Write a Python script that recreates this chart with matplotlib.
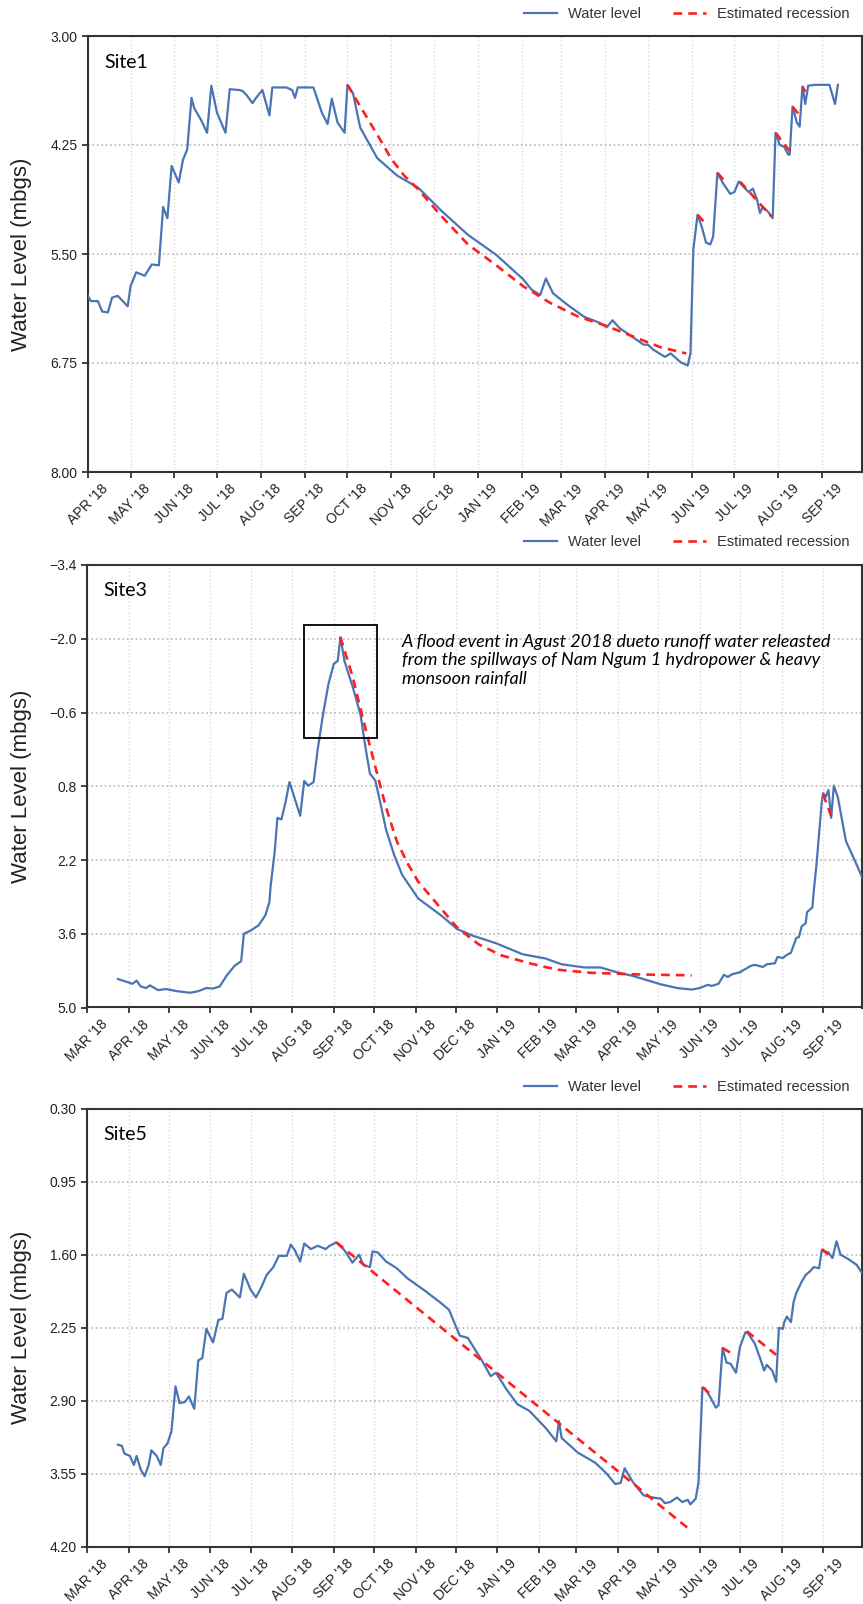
import matplotlib
matplotlib.use("Agg")
import matplotlib.pyplot as plt
import matplotlib.dates as mdates
from matplotlib.patches import Rectangle
from matplotlib.ticker import FuncFormatter
import numpy as np
import pandas as pd

plt.rcParams['font.family'] = ['Liberation Sans', 'DejaVu Sans']

BLUE = "#4a74b4"
RED = "#ff1f1f"

# ---- Site1 : days counted from 2018-04-01 ----
site1_start = "2018-04-01"
site1_xlim = ("2018-04-01", "2019-09-29")
site1_day = [0, 2, 7, 10, 14, 17, 21, 28, 30, 34, 40, 45, 50, 53, 56, 59, 64, 67, 70, 73,
             75, 80, 84, 87, 91, 97, 100, 107, 109, 112, 116, 119, 123, 128, 130, 140, 144,
             146, 148, 159, 165, 169, 172, 176, 181, 183, 187, 192, 204, 218, 233, 249, 268,
             288, 307, 313, 319, 323, 328, 338, 350, 361, 366, 370, 375, 384, 392, 395, 399,
             407, 411, 418, 423, 425, 427, 430, 433, 436, 439, 441, 444, 448, 453, 456, 459,
             463, 466, 469, 472, 474, 476, 480, 483, 485, 488, 491, 494, 495, 497, 500, 502,
             504, 506, 508, 513, 523, 527, 529]
site1_level = [5.98, 6.04, 6.04, 6.16, 6.17, 6.00, 5.98, 6.10, 5.87, 5.71, 5.75, 5.62, 5.63,
               4.96, 5.09, 4.49, 4.68, 4.42, 4.30, 3.71, 3.83, 3.97, 4.11, 3.57, 3.88, 4.11,
               3.61, 3.62, 3.63, 3.68, 3.77, 3.70, 3.62, 3.91, 3.59, 3.59, 3.62, 3.71, 3.59,
               3.59, 3.88, 4.01, 3.72, 3.99, 4.11, 3.56, 3.66, 4.05, 4.40, 4.60, 4.74, 5.00,
               5.28, 5.51, 5.79, 5.91, 5.97, 5.78, 5.95, 6.08, 6.22, 6.29, 6.34, 6.26, 6.35,
               6.45, 6.54, 6.54, 6.60, 6.68, 6.64, 6.74, 6.78, 6.64, 5.45, 5.05, 5.19, 5.37,
               5.39, 5.30, 4.57, 4.69, 4.81, 4.79, 4.67, 4.74, 4.79, 4.75, 4.88, 5.03, 4.96,
               5.02, 5.09, 4.11, 4.25, 4.27, 4.36, 4.36, 3.81, 3.99, 4.04, 3.58, 3.78, 3.57,
               3.56, 3.56, 3.78, 3.56]
site1_rec_day = [[183, 194, 204, 214, 223, 233, 249, 268, 288, 307, 326, 346, 365, 385, 404, 422],
                 [430, 435], [444, 449], [460, 482], [485, 495], [497, 501], [504, 506]]
site1_rec_level = [[3.56, 3.86, 4.13, 4.41, 4.60, 4.76, 5.06, 5.39, 5.63, 5.87, 6.06, 6.22,
                    6.32, 6.45, 6.57, 6.64],
                   [5.05, 5.14], [4.57, 4.66], [4.67, 5.07], [4.11, 4.32], [3.81, 3.89],
                   [3.58, 3.64]]
site1_yticks = [3.00, 4.25, 5.50, 6.75, 8.00]

# ---- Site3 : days counted from 2018-03-01 ----
site3_start = "2018-03-01"
site3_xlim = ("2018-03-01", "2019-09-30")
site3_day = [23, 28, 34, 37, 40, 44, 47, 53, 59, 67, 77, 83, 89, 94, 99, 104, 110, 115, 117,
             122, 128, 133, 136, 137, 140, 142, 145, 148, 151, 155, 159, 162, 165, 169, 172,
             176, 180, 184, 187, 189, 192, 198, 204, 208, 211, 215, 219, 223, 229, 235, 247,
             264, 276, 288, 299, 305, 325, 342, 354, 371, 383, 395, 407, 428, 440, 451, 457,
             463, 466, 471, 475, 478, 481, 487, 495, 498, 504, 507, 513, 515, 519, 522, 525,
             529, 531, 533, 536, 537, 541, 542, 544, 546, 548, 549, 551, 553, 555, 557, 560,
             566, 573, 579]
site3_level = [4.46, 4.50, 4.55, 4.49, 4.60, 4.63, 4.58, 4.67, 4.65, 4.69, 4.72, 4.69, 4.63,
               4.64, 4.60, 4.40, 4.21, 4.12, 3.60, 3.54, 3.44, 3.25, 3.00, 2.68, 2.04, 1.40,
               1.43, 1.11, 0.72, 1.04, 1.36, 0.70, 0.79, 0.72, 0.11, -0.56, -1.13, -1.52,
               -1.58, -2.03, -1.58, -1.10, -0.56, 0.11, 0.56, 0.69, 1.14, 1.62, 2.10, 2.48,
               2.93, 3.25, 3.51, 3.64, 3.73, 3.78, 3.99, 4.07, 4.18, 4.24, 4.24, 4.33, 4.40,
               4.56, 4.63, 4.66, 4.63, 4.57, 4.59, 4.55, 4.38, 4.42, 4.37, 4.33, 4.21, 4.19,
               4.23, 4.18, 4.16, 4.04, 4.06, 4.00, 3.96, 3.68, 3.66, 3.46, 3.40, 3.19, 3.10,
               2.80, 2.30, 1.70, 1.10, 0.93, 1.00, 0.87, 1.40, 0.79, 1.01, 1.84, 2.23, 2.58]
site3_rec_day = [[189, 198, 206, 215, 223, 231, 239, 247, 260, 276, 292, 309, 330, 350, 375,
                  407, 451],
                 [549, 556]]
site3_rec_level = [[-2.03, -1.29, -0.46, 0.43, 1.20, 1.84, 2.26, 2.61, 3.00, 3.48, 3.80, 4.01,
                    4.16, 4.28, 4.34, 4.37, 4.39],
                   [0.95, 1.43]]
site3_yticks = [-3.4, -2.0, -0.6, 0.8, 2.2, 3.6, 5.0]
flood_box_day = (162, 216)
flood_box_level = (-2.27, -0.12)
flood_note = ("A flood event in Agust 2018 dueto runoff water releasted\n"
              "from the spillways of Nam Ngum 1 hydropower & heavy\n"
              "monsoon rainfall")

# ---- Site5 : days counted from 2018-03-01 ----
site5_start = "2018-03-01"
site5_xlim = ("2018-03-01", "2019-09-30")
site5_day = [23, 26, 28, 32, 35, 37, 40, 43, 46, 48, 52, 55, 57, 60, 63, 66, 69, 73, 76, 80,
             83, 86, 89, 94, 98, 101, 104, 108, 114, 117, 122, 126, 130, 134, 139, 143, 149,
             152, 155, 159, 162, 167, 172, 178, 181, 186, 192, 198, 203, 206, 211, 213, 217,
             223, 231, 239, 252, 264, 270, 278, 284, 295, 301, 305, 313, 321, 330, 342, 350,
             352, 354, 366, 379, 387, 394, 398, 401, 407, 415, 422, 428, 431, 435, 440, 444,
             448, 450, 454, 456, 459, 461, 465, 469, 471, 474, 477, 480, 484, 487, 491, 493,
             498, 502, 505, 507, 511, 514, 516, 519, 520, 522, 525, 527, 529, 533, 536, 539,
             542, 546, 548, 553, 556, 559, 562, 568, 574, 579]
site5_level = [3.29, 3.30, 3.37, 3.39, 3.47, 3.39, 3.51, 3.57, 3.47, 3.34, 3.39, 3.47, 3.32,
               3.28, 3.17, 2.77, 2.92, 2.91, 2.86, 2.97, 2.54, 2.52, 2.26, 2.38, 2.18, 2.17,
               1.94, 1.91, 1.98, 1.77, 1.91, 1.98, 1.89, 1.78, 1.71, 1.61, 1.61, 1.51, 1.56,
               1.66, 1.50, 1.55, 1.52, 1.55, 1.52, 1.49, 1.56, 1.67, 1.60, 1.69, 1.71, 1.57,
               1.58, 1.66, 1.72, 1.81, 1.92, 2.03, 2.09, 2.32, 2.34, 2.55, 2.68, 2.65, 2.80,
               2.93, 2.99, 3.14, 3.26, 3.08, 3.23, 3.36, 3.45, 3.54, 3.64, 3.63, 3.50, 3.62,
               3.74, 3.76, 3.77, 3.81, 3.80, 3.76, 3.80, 3.78, 3.82, 3.77, 3.63, 2.78, 2.79,
               2.87, 2.96, 2.94, 2.43, 2.56, 2.57, 2.65, 2.42, 2.29, 2.30, 2.39, 2.52, 2.63,
               2.58, 2.63, 2.73, 2.25, 2.26, 2.20, 2.15, 2.20, 2.02, 1.94, 1.84, 1.78, 1.75,
               1.71, 1.72, 1.56, 1.58, 1.63, 1.48, 1.60, 1.64, 1.69, 1.78]
site5_rec_day = [[186, 449], [459, 465], [474, 481], [492, 514], [548, 556]]
site5_rec_level = [[1.49, 4.04], [2.78, 2.84], [2.43, 2.48], [2.28, 2.49], [1.55, 1.63]]
site5_yticks = [0.30, 0.95, 1.60, 2.25, 2.90, 3.55, 4.20]

W, H = 863, 1604
fig = plt.figure(figsize=(W / 100, H / 100), dpi=100)


def px_axes(left, top, right, bottom):
    return fig.add_axes([left / W, 1 - bottom / H, (right - left) / W, (bottom - top) / H])


def month_label(x, pos=None):
    return mdates.num2date(x).strftime("%b '%y").upper()


def num_fmt(ndec):
    return FuncFormatter(lambda v, pos=None: f"{v:.{ndec}f}".replace("-", "\u2212"))


def draw_panel(ax, start, days, level, rec_days, rec_levels, yticks, ndec, xlim, name,
               legend_y):
    t0 = pd.Timestamp(start)
    x = (t0 + pd.to_timedelta(days, unit="D")).values
    ax.plot(x, level, color=BLUE, lw=1.6, label="Water level", zorder=3)
    for i, (d, v) in enumerate(zip(rec_days, rec_levels)):
        xr = (t0 + pd.to_timedelta(d, unit="D")).values
        ax.plot(xr, v, color=RED, lw=1.9, ls=(0, (3.3, 2.3)), zorder=4,
                label="Estimated recession" if i == 0 else None)

    ax.set_xlim(pd.Timestamp(xlim[0]), pd.Timestamp(xlim[1]))
    ax.set_ylim(yticks[-1], yticks[0])
    ax.set_yticks(yticks)
    ax.yaxis.set_major_formatter(num_fmt(ndec))
    ax.xaxis.set_major_locator(mdates.MonthLocator())
    ax.xaxis.set_major_formatter(FuncFormatter(month_label))
    ax.tick_params(axis="both", colors="#222222", length=4, width=1.2)
    ax.tick_params(axis="y", labelsize=10)
    ax.tick_params(axis="x", labelsize=10, pad=3)
    for lab in ax.get_xticklabels():
        lab.set_rotation(45)
        lab.set_ha("center")

    ax.xaxis.grid(True, ls=":", color="#d8d8d8", lw=1.0)
    ax.yaxis.grid(True, ls=":", color="#b8b8b8", lw=1.2)
    ax.set_axisbelow(True)
    for sp in ax.spines.values():
        sp.set_color("#333333")
        sp.set_linewidth(1.5)

    pos = ax.get_position()
    ax.text(0.021, 1 - 26 / (pos.height * H), name, transform=ax.transAxes,
            family="Lato", fontsize=14, va="center", ha="left", color="black")
    fig.text(21 / W, pos.y0 + pos.height / 2, "Water Level (mbgs)", rotation=90,
             fontsize=16, va="center", ha="center", color="#222222")
    ax.legend(loc="center right", bbox_to_anchor=(849 / W, 1 - legend_y / H),
              bbox_transform=fig.transFigure, ncol=2, frameon=False, fontsize=10.5,
              borderpad=0, borderaxespad=0, handlelength=2.3, handletextpad=0.7,
              columnspacing=2.2, labelcolor="#333333")


ax1 = px_axes(88, 36, 862, 472)
draw_panel(ax1, site1_start, site1_day, site1_level, site1_rec_day, site1_rec_level,
           site1_yticks, 2, site1_xlim, "Site1", 14.5)

ax2 = px_axes(87, 565, 862, 1007.5)
draw_panel(ax2, site3_start, site3_day, site3_level, site3_rec_day, site3_rec_level,
           site3_yticks, 1, site3_xlim, "Site3", 542.5)
b0 = pd.Timestamp(site3_start) + pd.Timedelta(days=flood_box_day[0])
b1 = pd.Timestamp(site3_start) + pd.Timedelta(days=flood_box_day[1])
x0, x1 = mdates.date2num(b0), mdates.date2num(b1)
ax2.add_patch(Rectangle((x0, flood_box_level[0]), x1 - x0,
                        flood_box_level[1] - flood_box_level[0],
                        fill=False, ec="black", lw=1.3, zorder=5))
ax2.text(0.406, 0.845, flood_note, transform=ax2.transAxes, family="Lato",
         style="italic", fontsize=13, va="top", ha="left", linespacing=1.2,
         color="black")

ax3 = px_axes(87, 1108.6, 862, 1547)
draw_panel(ax3, site5_start, site5_day, site5_level, site5_rec_day, site5_rec_level,
           site5_yticks, 2, site5_xlim, "Site5", 1087)

fig.savefig("out.png", dpi=100)
